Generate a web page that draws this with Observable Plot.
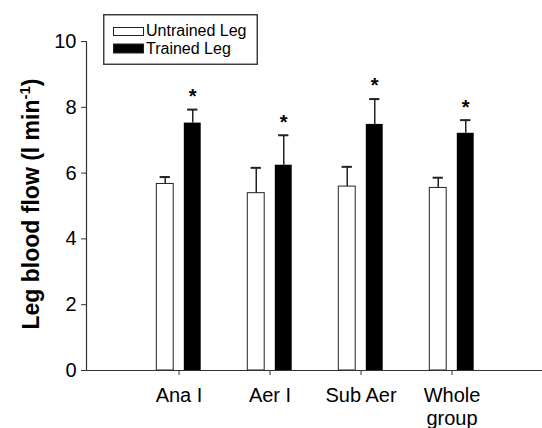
<!DOCTYPE html>
<html>
<head>
<meta charset="utf-8">
<script src="https://cdn.jsdelivr.net/npm/d3@7"></script>
<script src="https://cdn.jsdelivr.net/npm/@observablehq/plot@0.6"></script>
<style>
  html, body { margin: 0; padding: 0; background: #fff; }
  #wrap { position: relative; width: 542px; height: 428px; font-family: "Liberation Sans", Arial, sans-serif; }
  #legend { position: absolute; left: 103px; top: 14px; }
</style>
</head>
<body>
<div id="wrap"></div>
<script>
const categories = ["Ana I", "Aer I", "Sub Aer", "Whole\ngroup"];
const seriesNames = ["Untrained Leg", "Trained Leg"];
const untrained = [5.67, 5.39, 5.59, 5.55];
const untrainedErr = [0.21, 0.77, 0.60, 0.31];
const trained = [7.52, 6.24, 7.48, 7.21];
const trainedErr = [0.41, 0.91, 0.77, 0.40];
const significant = [true, true, true, true];
const yTicks = [0, 2, 4, 6, 8, 10];
const yLabel = "Leg blood flow (l min-1)";

const U = categories.map((cat, i) => ({cat, value: untrained[i], upper: untrained[i] + untrainedErr[i]}));
const T = categories.map((cat, i) => ({cat, value: trained[i], upper: trained[i] + trainedErr[i], sig: significant[i]}));

const chart = Plot.plot({
  width: 542, height: 428,
  marginLeft: 86, marginRight: 0, marginTop: 41, marginBottom: 58,
  style: {fontFamily: "'Liberation Sans', Arial, sans-serif", color: "#000", background: "#fff", overflow: "visible"},
  x: {domain: categories, paddingInner: 0, paddingOuter: 0.487, align: 0.51},
  y: {domain: [0, 10]},
  marks: [
    Plot.barY(U, {x: "cat", y: "value", fill: "white", stroke: "#222", strokeWidth: 1, insetLeft: 23.3, insetRight: 50.8}),
    Plot.barY(T, {x: "cat", y: "value", fill: "black", insetLeft: 50.8, insetRight: 23.3}),
    Plot.ruleX(U, {x: "cat", y1: "value", y2: "upper", dx: -13.75, stroke: "#222", strokeWidth: 1.5}),
    Plot.tickY(U, {x: "cat", y: "upper", insetLeft: 26.6, insetRight: 54.1, stroke: "#222", strokeWidth: 2}),
    Plot.ruleX(T, {x: "cat", y1: "value", y2: "upper", dx: 13.75, stroke: "#222", strokeWidth: 1.5}),
    Plot.tickY(T, {x: "cat", y: "upper", insetLeft: 54.1, insetRight: 26.6, stroke: "#222", strokeWidth: 2}),
    Plot.text(T.filter(d => d.sig), {x: "cat", y: "upper", text: () => "*", dx: 13.75, dy: -13, fontSize: 20, fontWeight: "bold", fill: "#000"}),
    Plot.ruleY([0], {stroke: "#333", strokeWidth: 1.2}),
    Plot.frame({anchor: "left", stroke: "#333", strokeWidth: 1.2}),
    Plot.axisY({ticks: yTicks, tickSize: 5, tickPadding: 5, fontSize: 20, label: null, stroke: "#333"}),
    Plot.axisX({tickSize: 5, tickPadding: 10, fontSize: 20, label: null, lineHeight: 1.15, stroke: "#333"}),
    Plot.text([yLabel], {frameAnchor: "left", textAnchor: "middle", rotate: -90, dx: -55, dy: -2, fontSize: 23, fontWeight: "bold", fill: "#000"})
  ]
});

// superscript for the unit in the y label
chart.querySelectorAll("text").forEach(t => {
  if (t.textContent === yLabel) {
    t.textContent = "";
    const ns = "http://www.w3.org/2000/svg";
    const a = document.createElementNS(ns, "tspan"); a.textContent = "Leg blood flow (l min";
    const b = document.createElementNS(ns, "tspan"); b.textContent = "-1"; b.setAttribute("dy", "-0.6em"); b.setAttribute("font-size", "0.65em");
    const c = document.createElementNS(ns, "tspan"); c.textContent = ")"; c.setAttribute("dy", "0.39em");
    t.append(a, b, c);
  }
});

const wrap = document.getElementById("wrap");
wrap.appendChild(chart);

// legend
const ns = "http://www.w3.org/2000/svg";
const leg = document.createElementNS(ns, "svg");
leg.setAttribute("id", "legend");
leg.setAttribute("width", 156);
leg.setAttribute("height", 52);
leg.innerHTML = `<rect x="0.75" y="0.75" width="153.5" height="49.5" fill="white" stroke="#333" stroke-width="1.4"/>` +
  seriesNames.map((name, i) =>
    `<rect x="10.5" y="${13.5 + i * 16.5}" width="30" height="${i ? 9 : 8}" fill="${i ? "black" : "white"}" stroke="#222" stroke-width="1"/>` +
    `<text x="43" y="${22 + i * 18}" font-family="'Liberation Sans', Arial, sans-serif" font-size="16" fill="#000">${name}</text>`
  ).join("");
wrap.appendChild(leg);
</script>
</body>
</html>
